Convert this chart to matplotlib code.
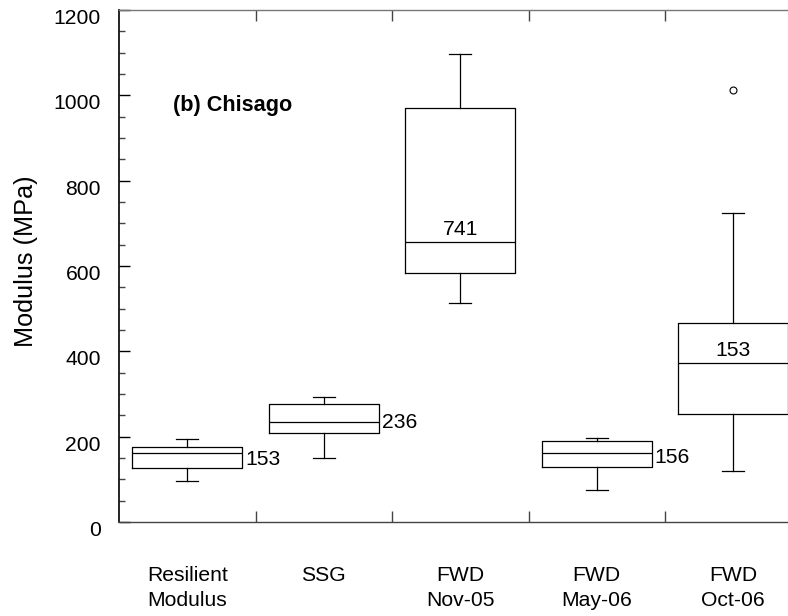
import matplotlib
matplotlib.use("Agg")
import matplotlib.pyplot as plt
from matplotlib.transforms import ScaledTranslation
from matplotlib.ticker import MultipleLocator, FixedLocator, NullFormatter

# ---- data (MPa) ----
categories = ["Resilient\nModulus", "SSG", "FWD\nNov-05", "FWD\nMay-06", "FWD\nOct-06"]
whisker_low = [96, 150, 513, 74, 120]
q1 = [126, 209, 583, 129, 252]
median = [162, 234, 657, 162, 373]
q3 = [176, 276, 971, 191, 466]
whisker_high = [194, 294, 1098, 198, 724]
fliers = [[], [], [], [], [1013]]
value_labels = ["153", "236", "741", "156", "153"]
panel_title = "(b) Chisago"

plt.rcParams['font.family'] = ['Liberation Sans', 'DejaVu Sans']

fig = plt.figure(figsize=(7.88, 6.16), dpi=100)
ax = fig.add_axes([119 / 788, 94 / 616, 682.5 / 788, 512 / 616])

stats = []
for i in range(len(categories)):
    stats.append(dict(whislo=whisker_low[i], q1=q1[i], med=median[i], q3=q3[i],
                      whishi=whisker_high[i], fliers=fliers[i]))

positions = list(range(len(categories)))
lc = 'black'
lw = 0.9
ax.bxp(stats, positions=positions, widths=0.806, capwidths=0.16,
       showfliers=True, patch_artist=False,
       boxprops=dict(color=lc, linewidth=lw),
       medianprops=dict(color=lc, linewidth=lw),
       whiskerprops=dict(color=lc, linewidth=lw),
       capprops=dict(color=lc, linewidth=lw),
       flierprops=dict(marker='o', markerfacecolor='white', markeredgecolor=lc,
                       markersize=5, markeredgewidth=0.8))

ax.set_xlim(-0.5, len(categories) - 0.5)
ax.set_ylim(0, 1200)

fs = 15.2
# value labels: side (right of box) or above median
label_mode = ['side', 'side', 'above', 'side', 'above']
label_dy_px = [-7, 0, 12, -5, 12]
for i, txt in enumerate(value_labels):
    if label_mode[i] == 'side':
        ax.annotate(txt, xy=(positions[i] + 0.403, median[i]), xycoords='data',
                    xytext=(2.2, label_dy_px[i] * 0.72), textcoords='offset points',
                    ha='left', va='center', fontsize=fs)
    else:
        ax.annotate(txt, xy=(positions[i], median[i]), xycoords='data',
                    xytext=(0, label_dy_px[i] * 0.72), textcoords='offset points',
                    ha='center', va='center', fontsize=fs)

ax.text(0.079, 0.8125, panel_title, transform=ax.transAxes, fontsize=15.6,
        fontweight='bold', ha='left', va='center')

# y axis
ax.yaxis.set_major_locator(MultipleLocator(200))
ax.yaxis.set_minor_locator(MultipleLocator(50))
ax.tick_params(axis='y', which='major', direction='in', length=8, width=1.0,
               labelsize=fs, pad=13, left=True, right=True, colors='black')
ax.tick_params(axis='y', which='minor', direction='in', length=4.3, width=1.0,
               left=True, right=True, color='#444444')
ax.set_ylabel("Modulus (MPa)", fontsize=18.2)
ax.yaxis.set_label_coords(-0.118, 0.51)

# x axis: major ticks at category boundaries, labels at centers (minor)
ax.xaxis.set_major_locator(FixedLocator([p + 0.5 for p in positions[:-1]]))
ax.xaxis.set_major_formatter(NullFormatter())
ax.xaxis.set_minor_locator(FixedLocator(positions))
ax.set_xticklabels(categories, minor=True)
ax.tick_params(axis='x', which='major', direction='in', length=8, width=1.0,
               top=True, bottom=True, color='#444444')
ax.tick_params(axis='x', which='minor', length=0, pad=32, labelsize=fs)
for lab in ax.get_xticklabels(minor=True):
    lab.set_linespacing(1.4)

offset = ScaledTranslation(0, -0.065, fig.dpi_scale_trans)
for lab in ax.get_yticklabels():
    lab.set_transform(lab.get_transform() + offset)

ax.spines['left'].set_color('black')
ax.spines['left'].set_linewidth(1.2)
ax.spines['bottom'].set_color('#444444')
ax.spines['bottom'].set_linewidth(1.0)
ax.spines['top'].set_color('#777777')
ax.spines['top'].set_linewidth(1.0)
ax.spines['right'].set_visible(False)

fig.savefig("out.png", dpi=100)
